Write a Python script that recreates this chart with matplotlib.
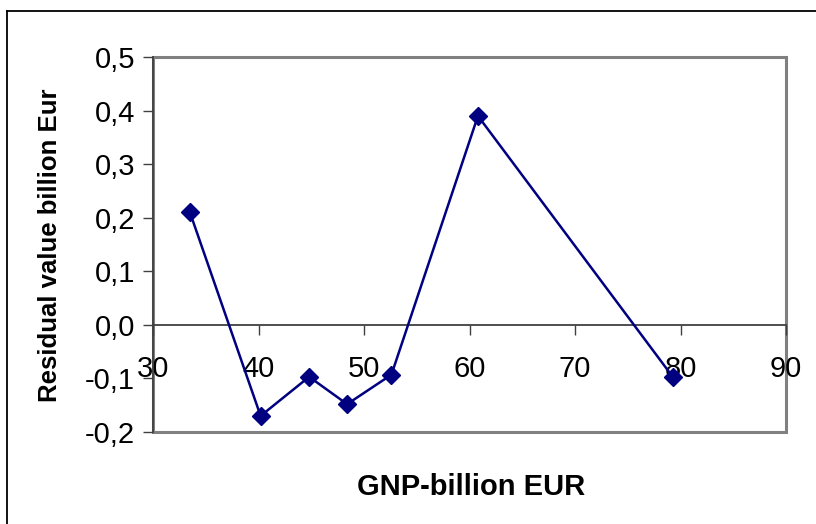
import matplotlib
matplotlib.use("Agg")
import matplotlib.pyplot as plt
from matplotlib.patches import Rectangle

# Residuals of the regression against GNP
gnp = [33.5, 40.2, 44.8, 48.4, 52.6, 60.8, 79.3]
residual = [0.21, -0.17, -0.097, -0.148, -0.093, 0.39, -0.098]

x_ticks = [30, 40, 50, 60, 70, 80, 90]
y_ticks = [-0.2, -0.1, 0.0, 0.1, 0.2, 0.3, 0.4, 0.5]
y_tick_labels = ["-0,2", "-0,1", "0,0", "0,1", "0,2", "0,3", "0,4", "0,5"]

plt.rcParams["font.family"] = ["Liberation Sans", "DejaVu Sans"]

W, H = 816, 524
fig = plt.figure(figsize=(W / 100, H / 100), dpi=100)
fig.patch.set_facecolor("white")

# outer chart frame (only top and left edges fall inside the image)
fig.add_artist(plt.Line2D([7 / W, 7 / W], [0, 1 - 11 / H], color="black", lw=1.3))
fig.add_artist(plt.Line2D([7 / W, 1], [1 - 11 / H, 1 - 11 / H], color="black", lw=1.3))

left, right, top, bottom = 153, 786, 57, 432
ax = fig.add_axes([left / W, 1 - bottom / H, (right - left) / W, (bottom - top) / H])
ax.set_xlim(30, 90)
ax.set_ylim(-0.2, 0.5)

for s in ("top", "right"):
    ax.spines[s].set_visible(False)
ax.spines["left"].set_color("#404040")
ax.spines["left"].set_linewidth(1.3)
ax.spines["bottom"].set_position(("data", 0))
ax.spines["bottom"].set_color("#404040")
ax.spines["bottom"].set_linewidth(1.3)

# plot-area border
ax.add_patch(Rectangle((0, 0), 1, 1, transform=ax.transAxes, fill=False,
                       edgecolor="#808080", lw=2.2, zorder=0.5, clip_on=False))

ax.set_xticks(x_ticks)
ax.set_xticklabels([str(v) for v in x_ticks])
ax.set_yticks(y_ticks)
ax.set_yticklabels(y_tick_labels)
ax.tick_params(axis="x", direction="out", length=7, width=1, color="#404040",
               labelsize=21, pad=15)
ax.tick_params(axis="y", direction="out", length=7, width=1, color="#404040",
               labelsize=21, pad=6)

ax.plot(gnp, residual, color="#000080", lw=1.8, marker="D", markersize=9,
        markerfacecolor="#000080", markeredgecolor="#000080", zorder=3, clip_on=False)

fig.text(471 / W, 1 - 487 / H, "GNP-billion EUR", ha="center", va="center",
         fontsize=21, fontweight="bold")
fig.text(50 / W, 1 - 245 / H, "Residual value billion Eur", ha="center", va="center",
         rotation=90, fontsize=18.5, fontweight="bold")

fig.savefig("out.png", dpi=100, facecolor="white")
